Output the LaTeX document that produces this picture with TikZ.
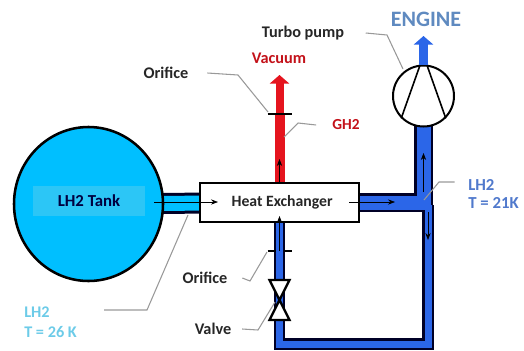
\documentclass[tikz,border=0pt]{standalone}
\usepackage{fontspec}
\setmainfont{Carlito}
\usetikzlibrary{arrows.meta,shapes.geometric,backgrounds}
\definecolor{tankcyan}{HTML}{00BFFF}
\definecolor{tankbox}{HTML}{2CC6F6}
\definecolor{pipeblue}{HTML}{2B66E8}
\definecolor{gasred}{HTML}{E5141E}
\definecolor{enginetext}{HTML}{5F8AC0}
\definecolor{warmtext}{HTML}{6CCBE8}
\definecolor{coldtext}{HTML}{5079CC}

\begin{document}
\begin{tikzpicture}[x=0.75pt,y=-0.75pt,font=\fontsize{12.2}{14}\selectfont\bfseries,>=Stealth,
  lab/.style={inner sep=0pt,text=black!85},
  redlab/.style={inner sep=0pt,text=gasred!85!black},
  lead/.style={draw=black!40,line width=0.8pt},
  flow/.style={->,black,line width=0.5pt},
  wideout/.style={draw=black!85!blue,line width=14.25pt},
  widein/.style={draw=pipeblue,line width=10.5pt},
  thinout/.style={draw=black!85!blue,line width=8.6pt},
  thinin/.style={draw=pipeblue,line width=5.25pt},
  plate/.style={draw=black,line width=1.6pt}]
\useasboundingbox (0,0) rectangle (524,350);

%% tank, exchanger and pump
\node[ellipse,draw=black,line width=1.9pt,fill=tankcyan,inner sep=0pt,minimum width=111.75pt,minimum height=115.5pt] (tank) at (88.5,204) {};
\node[fill=tankbox,minimum width=84pt,minimum height=22.5pt,inner sep=0pt,text=black!75!blue,font=\fontsize{12.6}{14}\selectfont\bfseries] (tanklab) at (89,201) {LH2 Tank};
\node[draw=black,line width=1.9pt,fill=white,minimum width=119pt,minimum height=29.5pt,inner sep=0pt,text=black!85,font=\fontsize{11.8}{14}\selectfont\bfseries] (hx) at (279.5,202.5) {\hspace*{4pt}Heat Exchanger};
\node[circle,draw=black,line width=1.5pt,fill=white,minimum size=45.75pt,inner sep=0pt] (pump) at (423.5,96) {};
\draw[black,line width=1.2pt] (pump.96) -- (pump.225);
\draw[black,line width=1.2pt] (pump.84) -- (pump.-45);

%% points on the lines
\coordinate (tee) at (423.5,202.5);
\coordinate (teelow) at (428,205);
\coordinate (cornerr) at (428,344);
\coordinate (cornerl) at (279.5,344);
\coordinate (valve) at (279.5,300);
\coordinate (oriflow) at (279.5,251);
\coordinate (orifup) at (279.5,114);
\coordinate (vacuumtip) at (279.5,75);
\coordinate (enginetip) at (423.5,36);

%% pipes go behind the nodes
\begin{pgfonlayer}{background}
\draw[draw=black!85!blue,line width=15.75pt] (tank.center) -- (hx.center);
\draw[draw=tankcyan,line width=11.25pt] (tank.center) -- (hx.center);
\draw[thinout,line join=miter] (teelow) -- (cornerr) -- (cornerl) -- (hx.center);
\draw[wideout,line join=miter] (hx.center) -- (tee) -- (pump.center);
\draw[thinin,line join=miter] (teelow) -- (cornerr) -- (cornerl) -- (hx.center);
\draw[widein,line join=miter] (hx.center) -- (tee) -- (pump.center);
\draw[gasred,line width=7.5pt] (hx.center) -- (orifup);
\end{pgfonlayer}

%% outlets
\draw[-{Triangle[width=14.5pt,length=6.5pt]},gasred,line width=6pt] (orifup) -- (vacuumtip);
\draw[-{Triangle[width=14.5pt,length=6.5pt]},pipeblue,line width=7pt] (pump.north) -- (enginetip);

%% orifices and valve
\draw[plate] ([xshift=-9pt]orifup) -- ([xshift=9pt]orifup);
\draw[plate] ([xshift=-9pt]oriflow) -- ([xshift=-3pt]oriflow);
\draw[plate] ([xshift=3pt]oriflow) -- ([xshift=9pt]oriflow);
\draw[black,line width=1.8pt,fill=white,line join=miter] (valve) -- ++(-10,-20) -- ++(20,0) -- cycle;
\draw[black,line width=1.8pt,fill=white,line join=miter] (valve) -- ++(-10,20) -- ++(20,0) -- cycle;

%% flow arrows
\coordinate (flowa) at (154,202);
\coordinate (flowb) at (218,202);
\coordinate (flowc) at (349,202);
\coordinate (flowd) at (395,202);
\coordinate (flowe) at (423.5,192);
\coordinate (flowf) at (423.5,153);
\coordinate (flowg) at (428,212);
\coordinate (flowh) at (428,240);
\coordinate (flowi) at (279.5,182);
\coordinate (flowj) at (279.5,159);
\coordinate (flowk) at (279.5,216);
\draw[flow] (flowa) -- (flowb);
\draw[flow] (flowc) -- (flowd);
\draw[flow] (flowe) -- (flowf);
\draw[flow] (flowg) -- (flowh);
\draw[flow] (flowi) -- (flowj);
\draw[flow] (oriflow) -- (flowk);

%% labels
\node[font=\fontsize{16.5}{18}\selectfont\bfseries,inner sep=0pt,text=enginetext] (engine) at (426,19) {ENGINE};
\node[lab] (turbolab) at (303,33) {Turbo pump};
\node[redlab] (vacuumlab) at (279,58) {Vacuum};
\node[lab] (orifuplab) at (166,73) {Orifice};
\node[redlab,font=\fontsize{11.5}{14}\selectfont\bfseries] (gaslab) at (346,125) {GH2};
\node[lab] (oriflowlab) at (205,278) {Orifice};
\node[lab] (valvelab) at (213,329) {Valve};
\node[inner sep=0pt,text=coldtext,align=left,anchor=west,font=\fontsize{12.6}{13.5}\selectfont\bfseries] (coldlab) at (468,194) {LH2\\T = 21K};
\node[inner sep=0pt,text=warmtext,align=left,anchor=west,font=\fontsize{12.2}{15}\selectfont\bfseries] (warmlab) at (24,322) {LH2\\T = 26 K};

%% leaders
\coordinate (kneea) at (238,75);
\coordinate (enda) at (268,112);
\coordinate (kneeb) at (298,123);
\coordinate (endb) at (284,137);
\coordinate (kneec) at (387,35);
\coordinate (endc) at (403,69);
\coordinate (kneed) at (439,182);
\coordinate (endd) at (424,200);
\coordinate (kneee) at (147,310);
\coordinate (ende) at (188,215);
\coordinate (kneef) at (250,281);
\coordinate (endf) at (267,252);
\coordinate (kneeg) at (258,330);
\coordinate (endg) at (275,302);
\draw[lead] ([xshift=14pt]orifuplab.east) -- (kneea) -- (enda);
\draw[lead] ([xshift=-12pt]gaslab.west) -- (kneeb) -- (endb);
\draw[lead] ([xshift=16pt]turbolab.east) -- (kneec) -- (endc);
\draw[lead] ([xshift=-10pt,yshift=9pt]coldlab.west) -- (kneed) -- (endd);
\draw[lead] ([xshift=60pt,yshift=9pt]warmlab.west) -- (kneee) -- (ende);
\draw[lead] ([xshift=11pt]oriflowlab.east) -- (kneef) -- (endf);
\draw[lead] ([xshift=8pt]valvelab.east) -- (kneeg) -- (endg);
\end{tikzpicture}
\end{document}
